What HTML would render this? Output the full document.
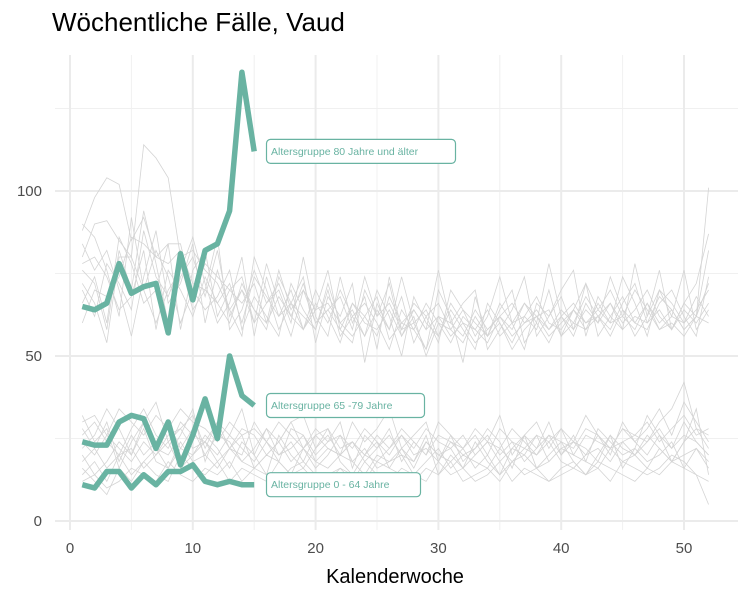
<!DOCTYPE html>
<html><head><meta charset="utf-8"><style>
body{margin:0;background:#fff;font-family:"Liberation Sans",sans-serif}
</style></head><body>
<svg id="c" width="750" height="600" xmlns="http://www.w3.org/2000/svg" font-family="Liberation Sans, sans-serif"></svg>
<script>
const xTicks=[0,10,20,30,40,50];
const yTicks=[0,50,100];
const weeks15=[1,2,3,4,5,6,7,8,9,10,11,12,13,14,15];
const g80=[65,64,66,78,69,71,72,57,81,67,82,84,94,136,112];
const g65=[24,23,23,30,32,31,22,30,17,26,37,25,50,38,35];
const g0=[11,10,15,15,10,14,11,15,15,17,12,11,12,11,11];
const labels=["Altersgruppe 80 Jahre und älter","Altersgruppe 65 -79 Jahre","Altersgruppe 0 - 64 Jahre"];
const bgUpper=[
[88,98,104,102,85,92,80,78,82,72,70,66,72,60,74,68,62,70,58,64,66,60,56,62,68,55,60,58,52,62,56,60,54,58,62,56,60,64,58,62,66,60,64,70,62,58,66,60,64,58,62,72],
[80,90,91,85,80,114,110,104,80,82,76,72,64,70,60,66,72,62,58,70,62,54,66,60,58,64,56,62,50,60,58,54,62,56,60,52,58,62,64,56,60,58,62,66,60,64,70,62,58,64,60,66],
[76,72,58,82,70,94,78,60,74,80,68,82,62,70,64,58,74,66,62,58,72,60,64,56,70,62,50,68,60,56,64,58,52,66,60,54,62,68,60,58,64,72,56,62,68,60,58,66,70,62,56,74],
[60,70,68,74,86,84,80,84,84,68,78,74,70,66,72,60,76,64,70,60,64,68,58,74,62,66,58,60,64,56,66,60,58,54,62,58,66,60,54,62,58,64,60,66,58,62,60,68,64,58,62,82],
[90,86,76,62,92,70,60,70,76,86,72,60,66,80,56,74,62,66,58,66,60,70,62,56,64,58,68,54,62,66,58,64,60,56,66,60,62,58,70,56,64,60,62,58,66,72,60,64,58,66,62,60],
[72,66,54,80,80,70,82,74,60,70,64,68,76,58,68,62,56,72,64,58,70,56,62,66,60,52,64,58,66,60,54,62,58,64,56,60,66,62,58,64,60,68,62,56,64,60,66,58,62,60,64,70],
[78,80,74,64,68,82,58,76,70,62,74,66,60,72,64,60,68,62,72,60,64,58,66,62,56,68,60,64,58,62,60,56,64,58,62,66,60,62,56,60,64,58,66,60,62,70,64,58,60,56,62,101],
[84,76,82,70,56,74,88,66,72,84,60,76,64,56,80,70,58,66,74,54,68,62,72,48,66,58,74,60,52,70,62,48,68,56,64,70,54,60,78,62,56,66,60,74,64,56,62,76,58,66,72,87],
[66,74,60,86,78,66,70,84,58,76,82,62,70,74,60,78,66,56,70,64,76,58,54,70,62,72,56,64,58,76,60,66,70,52,58,64,74,56,62,68,58,72,64,60,74,66,56,70,62,76,58,64],
[70,62,78,72,64,88,74,68,78,64,70,86,58,64,76,66,70,60,80,62,56,74,60,68,52,74,58,66,62,54,70,64,56,62,74,60,52,66,62,70,76,56,68,62,58,78,62,70,66,60,68,62]];
const bgLower=[
[28,22,30,18,26,20,24,30,22,28,20,26,24,18,22,28,20,24,18,26,22,20,24,18,22,26,20,18,24,20,22,16,20,24,18,22,20,26,18,22,24,20,26,22,28,24,20,26,22,30,24,20],
[20,14,18,24,20,28,18,16,22,20,24,18,22,26,16,20,24,18,22,16,20,26,18,14,20,18,22,16,24,20,18,22,16,20,14,18,22,20,24,18,16,20,22,18,24,20,26,22,18,24,28,22],
[16,12,8,16,12,18,14,12,20,16,14,18,12,16,14,12,18,14,16,12,14,16,12,18,14,12,16,14,12,18,14,16,12,14,18,12,16,14,12,16,18,14,16,12,18,16,14,16,20,18,14,5],
[30,32,26,34,30,26,32,28,34,30,28,24,30,26,28,24,30,26,22,28,24,26,22,28,24,20,26,22,28,24,22,26,20,24,22,28,24,20,26,24,22,28,26,22,24,26,30,24,28,32,26,28],
[24,20,26,22,18,24,20,26,28,22,24,20,26,22,18,24,20,22,26,18,22,20,24,20,18,22,26,20,22,18,24,20,22,26,20,24,18,22,26,20,24,22,18,26,22,20,24,28,22,26,24,20],
[12,14,10,12,16,14,12,18,14,12,16,14,18,12,16,14,12,16,18,14,12,16,14,12,18,16,14,12,16,14,18,12,14,16,12,18,14,16,12,14,16,14,18,16,14,12,16,14,18,16,14,12],
[26,30,24,20,28,34,26,22,30,26,24,30,22,28,26,20,24,30,22,26,28,22,24,20,26,22,28,24,20,26,24,22,26,20,28,24,22,26,24,28,20,26,24,22,28,26,24,30,34,42,28,26],
[18,22,16,20,14,18,22,16,24,18,20,16,22,18,16,20,18,14,22,18,16,20,18,22,16,18,20,14,18,22,16,20,18,16,22,18,20,16,18,22,20,18,16,22,18,20,16,22,18,20,22,16],
[22,26,34,28,20,30,36,24,28,32,22,30,26,34,20,28,24,30,32,22,26,20,30,24,28,34,22,26,30,18,26,22,28,24,32,20,26,30,22,28,24,32,26,20,30,24,28,34,26,36,30,24],
[14,18,12,20,22,16,20,24,16,20,26,22,16,24,20,14,26,20,16,22,28,18,14,20,24,16,22,18,26,14,20,16,24,18,14,22,26,16,20,24,18,14,20,26,16,22,18,20,24,16,22,18],
[32,24,28,16,24,30,22,20,26,34,18,28,22,20,30,24,18,28,26,20,24,30,16,26,22,28,18,24,20,30,26,18,22,28,24,16,26,22,30,20,26,18,28,24,20,22,32,26,18,24,34,14]];

const svg=document.getElementById('c');
const NS='http://www.w3.org/2000/svg';
const X=v=>70+v*12.28, Y=v=>521-v*3.3;
const L=55,R=738,T=55,B=530;
function mk(t,a,p){const e=document.createElementNS(NS,t);for(const k in a)e.setAttribute(k,a[k]);(p||svg).appendChild(e);return e;}
const grid=mk('g',{});


[25,75,125].forEach(v=>mk('line',{x1:L,x2:R,y1:Y(v),y2:Y(v),stroke:'#f0f0f0','stroke-width':1},grid));
[5,15,25,35,45].forEach(v=>mk('line',{x1:X(v),x2:X(v),y1:T,y2:B,stroke:'#f0f0f0','stroke-width':1},grid));
yTicks.forEach(v=>mk('line',{x1:L,x2:R,y1:Y(v),y2:Y(v),stroke:'#ebebeb','stroke-width':2},grid));
xTicks.forEach(v=>mk('line',{x1:X(v),x2:X(v),y1:T,y2:B,stroke:'#ebebeb','stroke-width':2},grid));
function path(vals,start){return vals.map((v,i)=>(i?'L':'M')+X(i+start).toFixed(1)+','+Y(v).toFixed(1)).join('');}
const bg=mk('g',{});


bgUpper.concat(bgLower).forEach(s=>{const p=mk('path',{d:path(s,1),fill:'none',stroke:'#d4d4d4','stroke-width':0.8},bg);

});
const col='#69b3a2';
[[g80,'line-80-plus'],[g65,'line-65-79'],[g0,'line-0-64']].forEach(([s,n],k)=>{
const p=mk('path',{d:s.map((v,i)=>(i?'L':'M')+X(weeks15[i]).toFixed(1)+','+Y(v).toFixed(1)).join(''),fill:'none',stroke:col,'stroke-width':5.5,'stroke-linejoin':'round'});


const ly=Y(s[s.length-1]);const w=[189,158,154][k];
const g=mk('g',{});


mk('rect',{x:266.5,y:ly-12,width:w,height:24,rx:4,fill:'#fff',stroke:col,'stroke-width':1.2},g);
const t=mk('text',{x:271,y:ly+3.5,'font-size':10.5,fill:col},g);t.textContent=labels[k];
});
yTicks.forEach(v=>{const t=mk('text',{x:42,y:Y(v)+5,'text-anchor':'end','font-size':15,fill:'#4d4d4d'});t.textContent=v;

});
xTicks.forEach(v=>{const t=mk('text',{x:X(v),y:553,'text-anchor':'middle','font-size':15,fill:'#4d4d4d'});t.textContent=v;

});
const xt=mk('text',{x:395,y:583,'text-anchor':'middle','font-size':20,fill:'#000'});xt.textContent='Kalenderwoche';


const tt=mk('text',{x:52,y:31,'font-size':26,fill:'#000'});tt.textContent='Wöchentliche Fälle, Vaud';


</script>
</body></html>
